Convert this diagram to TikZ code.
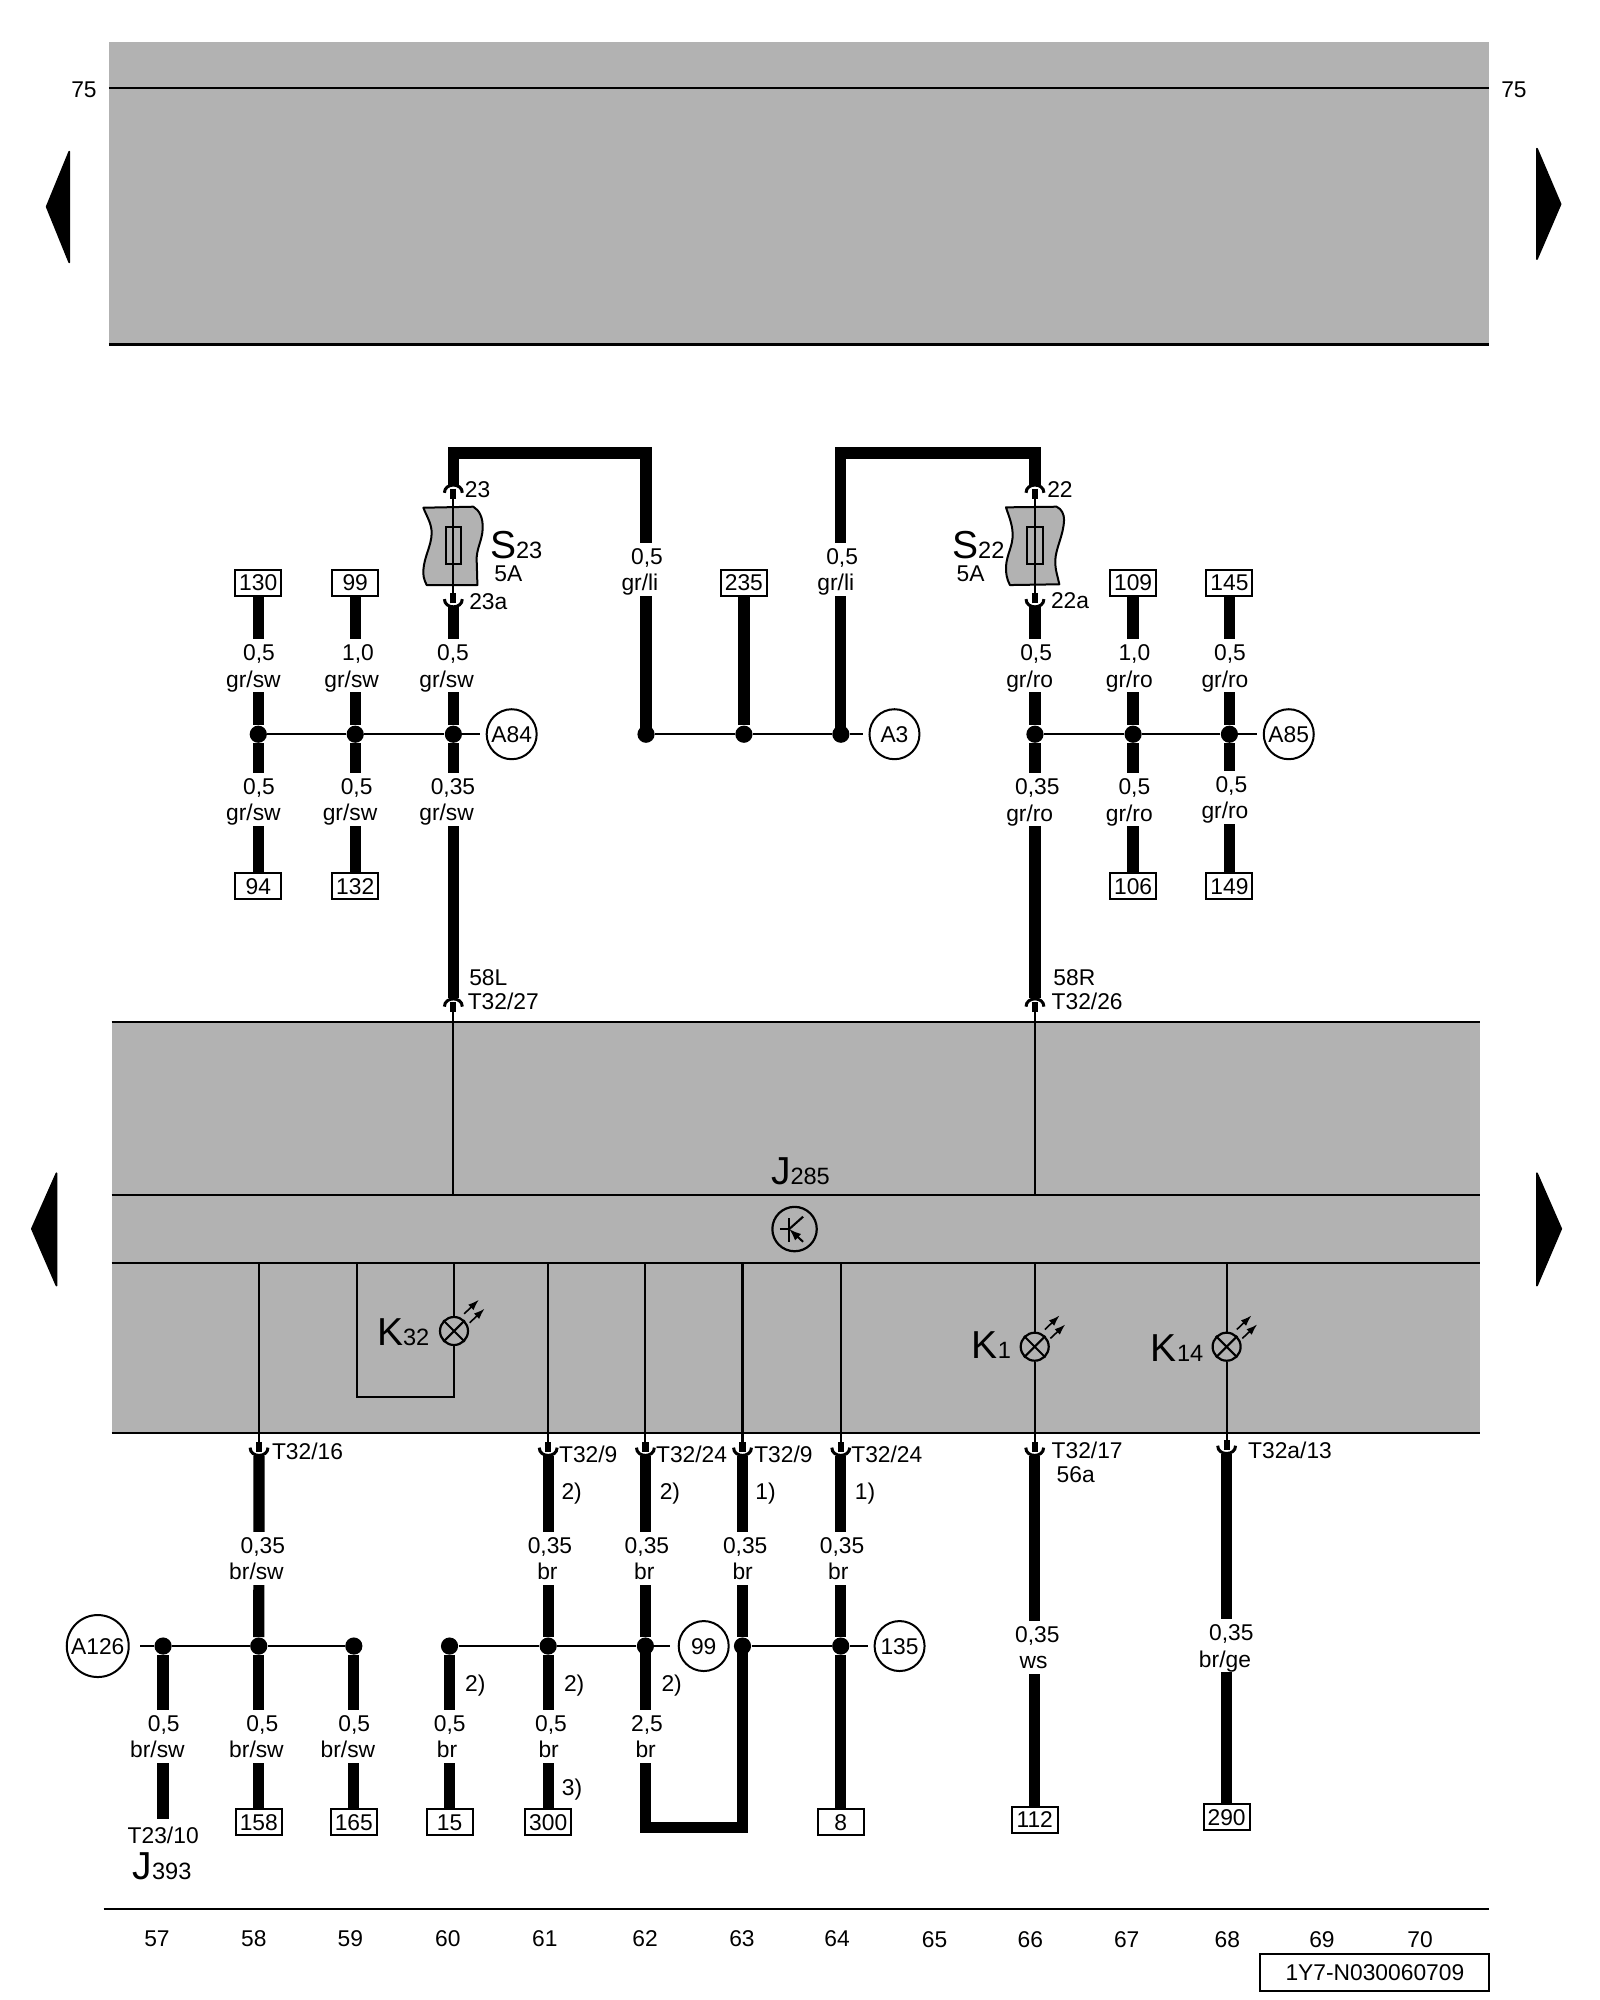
\documentclass[tikz,border=0pt]{standalone}
\usepackage{fontspec}
\setmainfont{Liberation Sans}
\usetikzlibrary{arrows.meta}
\definecolor{panelgray}{HTML}{B2B2B2}
\tikzset{
  wire/.style={line width=5.6pt,line cap=butt,line join=miter},
  thinw/.style={line width=1.05pt},
  txt/.style={font=\fontsize{11.4}{13}\selectfont,inner sep=0pt,text height=8.1pt,text depth=0pt},
  wlab/.style={txt,fill=white,inner xsep=1pt,minimum height=13.25pt},
  refbox/.style={txt,draw,line width=1pt,fill=white,minimum width=23pt,minimum height=13pt},
  refcirc/.style={txt,circle,draw,line width=1pt,fill=white,minimum size=25pt},
  bigcirc/.style={refcirc,minimum size=31pt},
  jdot/.style={circle,fill=black,inner sep=0pt,minimum size=8.6pt},
  dev/.style={inner sep=0pt,text height=14pt,text depth=0pt},
  lampc/.style={circle,draw,line width=1.1pt,inner sep=0pt,minimum size=14pt},
  fusebody/.style={fill=panelgray,draw,line width=1pt,line join=round},
  tri/.style={fill=black,draw,line width=0.9pt,line join=round},
  lightarrow/.style={line width=0.8pt,-{Latex[length=5.5pt,width=3.8pt]}},
}
\newcommand{\devname}[2]{{\fontsize{19.5}{21}\selectfont #1}{\fontsize{11.8}{13}\selectfont #2}}
% pin whose cup faces down (wire arrives from above); apex at y
\newcommand{\pinTop}[3]{%
  \coordinate (#1) at (#2,#3);
  \coordinate (#1s) at (#2,#3+11);
  \draw[line width=3.1pt] (#2,#3+3.2) -- (#1s);
  \draw[line width=1.5pt] (#2-7,#3+6.5) .. controls (#2-7,#3-1.6) and (#2+7,#3-1.6) .. (#2+7,#3+6.5);
}
% pin whose cup faces up (wire leaves downward); apex at y
\newcommand{\pinBot}[3]{%
  \coordinate (#1) at (#2,#3);
  \coordinate (#1s) at (#2,#3-11);
  \draw[line width=3.1pt] (#2,#3-3.2) -- (#1s);
  \draw[line width=1.5pt] (#2-7,#3-6.5) .. controls (#2-7,#3+1.6) and (#2+7,#3+1.6) .. (#2+7,#3-6.5);
}
% two-line wire label: name, x1, y1, text1, x2, text2
\newcommand{\wirelab}[6]{%
  \node[wlab] (#1v) at (#2,#3) {#4};
  \node[wlab] (#1c) at (#5,#3+20.7) {#6};
}
% lamp with light arrows
\newcommand{\lampsym}[3]{%
  \node[lampc] (#1) at (#2,#3) {};
  \draw[thinw] (#1.45) -- (#1.225) (#1.135) -- (#1.315);
  \draw[lightarrow] (#2+8,#3-13.5) -- (#2+19.5,#3-24.5);
  \draw[lightarrow] (#2+12.3,#3-6.5) -- (#2+24,#3-17.5);
}
\begin{document}
\begin{tikzpicture}[x=0.638pt,y=-0.638pt]
\useasboundingbox (0,0) rectangle (1253.9,1567.4);

% ---- panels
\fill[panelgray] (85.4,32.7) rectangle (1167,270);
\draw[thinw] (85.4,69.2) -- (1167,69.2);
\draw[thinw] (85.4,270) -- (1167,270);
\fill[panelgray] (87.5,801.2) rectangle (1160,1123);
\draw[thinw] (87.5,801.2) -- (1160,801.2);
\draw[thinw] (87.5,936.5) -- (1160,936.5);
\draw[thinw] (87.5,989.6) -- (1160,989.6);
\draw[thinw] (87.5,1123) -- (1160,1123);

\node[txt] (n75l) at (65.8,70.3) {75};
\node[txt] (n75r) at (1186.5,70.3) {75};

% ---- page arrows
\draw[tri] (36.6,162) -- (54.3,118.9) -- (54.3,205.6) -- cycle;
\draw[tri] (1204.5,116.5) -- (1223,160) -- (1204.5,203) -- cycle;
\draw[tri] (25,963) -- (44.3,919.5) -- (44.3,1007.5) -- cycle;
\draw[tri] (1204.5,919.5) -- (1223.5,963) -- (1204.5,1007.5) -- cycle;

% ---- reference boxes
\node[refbox] (b130) at (202.4,456.6) {130};
\node[refbox] (b99)  at (278.4,456.6) {99};
\node[refbox] (b235) at (583,456.6) {235};
\node[refbox] (b109) at (888,456.6) {109};
\node[refbox] (b145) at (963.5,456.6) {145};
\node[refbox] (b94)  at (202.4,694.4) {94};
\node[refbox] (b132) at (278.4,694.4) {132};
\node[refbox] (b106) at (888,694.4) {106};
\node[refbox] (b149) at (963.5,694.4) {149};
\node[refbox] (b158) at (202.8,1428) {158};
\node[refbox] (b165) at (277.3,1428) {165};
\node[refbox] (b15)  at (352.3,1428) {15};
\node[refbox] (b300) at (429.6,1428) {300};
\node[refbox] (b8)   at (658.9,1428) {8};
\node[refbox] (b112) at (810.9,1426) {112};
\node[refbox] (b290) at (961.3,1424) {290};

% ---- circled references
\node[refcirc] (cA84) at (401,575.4) {A84};
\node[refcirc] (cA3)  at (701,575.4) {A3};
\node[refcirc] (cA85) at (1010,575.4) {A85};
\node[bigcirc] (cA126) at (76.6,1290) {A126};
\node[refcirc] (c99)  at (551.5,1290) {99};
\node[refcirc] (c135) at (705,1290) {135};

% ---- junctions
\node[jdot] (j1) at (202.4,575.4) {};
\node[jdot] (j2) at (278.4,575.4) {};
\node[jdot] (j3) at (355.3,575.4) {};
\node[jdot] (j4) at (506.3,575.4) {};
\node[jdot] (j5) at (583,575.4) {};
\node[jdot] (j6) at (659,575.4) {};
\node[jdot] (j7) at (811.1,575.4) {};
\node[jdot] (j8) at (888,575.4) {};
\node[jdot] (j9) at (963.5,575.4) {};
\node[jdot] (k1) at (127.8,1290) {};
\node[jdot] (k2) at (202.8,1290) {};
\node[jdot] (k3) at (277.3,1290) {};
\node[jdot] (k4) at (352.3,1290) {};
\node[jdot] (k5) at (429.6,1290) {};
\node[jdot] (k6) at (505.8,1290) {};
\node[jdot] (k7) at (581.9,1290) {};
\node[jdot] (k8) at (658.9,1290) {};

% ---- fuses
\draw[fusebody] (331.8,397.9) -- (370.9,397.1) .. controls (376,400) and (378.5,406) .. (378.3,414)
  .. controls (378,424) and (373,430) .. (373.6,440) .. controls (373.8,447) and (374,452) .. (374.1,458.5)
  -- (334.4,458.5) .. controls (332,454) and (331.5,450) .. (331.8,446.7)
  .. controls (332.5,436) and (338,428) .. (338.3,418) .. controls (338.4,410) and (334,404) .. (331.8,397.9) -- cycle;
\draw[thinw] (349.3,413.3) rectangle (361,442.2);
\draw[fusebody] (788.4,397.6) -- (828.1,397.1) .. controls (832,399) and (834,403) .. (833.9,407.5)
  .. controls (833.5,420) and (827,430) .. (827,440) .. controls (827,447) and (829,452) .. (830.2,457.9)
  -- (791.5,458.5) .. controls (789,454) and (788.2,449) .. (788.4,444.1)
  .. controls (789,434) and (794,428) .. (793.6,418) .. controls (793.3,410) and (790,403) .. (788.4,397.6) -- cycle;
\draw[thinw] (805.1,413.3) rectangle (817.1,442.2);

% ---- pins
\pinTop{p23}{355.3}{379.7}
\pinBot{p23a}{355.3}{476}
\pinTop{p22}{811.1}{379.7}
\pinBot{p22a}{811.1}{476}
\pinTop{p27}{355.3}{782.4}
\pinTop{p26}{811.1}{782.4}
\pinBot{q16}{203}{1141}
\pinBot{q9a}{429.6}{1141}
\pinBot{q24a}{505.8}{1141}
\pinBot{q9b}{581.9}{1141}
\pinBot{q24b}{658.9}{1141}
\pinBot{q17}{810.9}{1141}
\pinBot{q13}{961.3}{1139.5}
\draw[thinw] (p23s) -- (p23as);
\draw[thinw] (p22s) -- (p22as);

% ---- thin lines in panel
\coordinate (t27) at (355.3,936.5);
\coordinate (t26) at (811.1,936.5);
\draw[thinw] (p27s) -- (t27);
\draw[thinw] (p26s) -- (t26);
\coordinate (u16) at (203,989.6);
\coordinate (u9a) at (429.6,989.6);
\coordinate (u24a) at (505.8,989.6);
\coordinate (u9b) at (581.9,989.6);
\coordinate (u24b) at (658.9,989.6);
\coordinate (u17) at (810.9,989.6);
\coordinate (u13) at (961.3,989.6);
\draw[thinw] (u16) -- (q16s);
\draw[thinw] (u9a) -- (q9as);
\draw[thinw] (u24a) -- (q24as);
\draw[thinw] (u9b) -- (q9bs);
\draw[thinw] (u24b) -- (q24bs);

\lampsym{l32}{355.8}{1043.1}
\lampsym{l1}{810.9}{1055.4}
\lampsym{l14}{961.3}{1055.4}
\draw[thinw] (u17) -- (l1);
\draw[thinw] (l1) -- (q17s);
\draw[thinw] (u13) -- (l14);
\draw[thinw] (l14) -- (q13s);
\coordinate (u32r) at (355.8,989.6);
\coordinate (u32l) at (279.6,989.6);
\coordinate (c32l) at (279.6,1095);
\coordinate (c32r) at (355.8,1095);
\draw[thinw] (u32r) -- (l32);
\draw[thinw,line join=miter] (l32) -- (c32r) -- (c32l) -- (u32l);

% transistor symbol
\node[circle,draw,line width=1.1pt,inner sep=0pt,minimum size=22.2pt] (tr) at (622.7,963.2) {};
\draw[thinw] (618.5,954.8) -- (618.5,973.2);
\draw[thinw] (611.2,963.2) -- (618.5,963.2);
\draw[thinw] (618.5,963.2) -- (629.4,953.5);
\draw[line width=1pt,{Latex[length=6pt,width=4.5pt]}-] (618.5,963.2) -- (629.4,973.2);

% ---- thick wires (top)
\coordinate (cA1) at (355.3,355);
\coordinate (cA2) at (506.3,355);
\coordinate (cB1) at (659,355);
\coordinate (cB2) at (811.1,355);
\draw[wire] (p23) -- (cA1) -- (cA2) -- (j4.center);
\draw[wire] (p22) -- (cB2) -- (cB1) -- (j6.center);
\draw[wire] (b235) -- (j5);
\draw[wire] (b130) -- (j1);
\draw[wire] (j1) -- (b94);
\draw[wire] (b99) -- (j2);
\draw[wire] (j2) -- (b132);
\draw[wire] (p23a) -- (j3);
\draw[wire] (j3) -- (p27);
\draw[wire] (p22a) -- (j7);
\draw[wire] (j7) -- (p26);
\draw[wire] (b109) -- (j8);
\draw[wire] (j8) -- (b106);
\draw[wire] (b145) -- (j9);
\draw[wire] (j9) -- (b149);

% ---- thick wires (bottom)
\coordinate (w57) at (127.8,1425.8);
\coordinate (c62) at (505.8,1432);
\coordinate (c63) at (581.9,1432);
\draw[wire] (k1) -- (w57);
\draw[wire] (q16) -- (k2);
\draw[wire] (k2) -- (b158);
\draw[wire] (k3) -- (b165);
\draw[wire] (k4) -- (b15);
\draw[wire] (q9a) -- (k5);
\draw[wire] (k5) -- (b300);
\draw[wire] (q24a) -- (k6);
\draw[wire] (k6.center) -- (c62) -- (c63) -- (k7.center);
\draw[wire] (q9b) -- (k7);
\draw[wire] (q24b) -- (k8);
\draw[wire] (k8) -- (b8);
\draw[wire] (q17) -- (b112);
\draw[wire] (q13) -- (b290);

% ---- thin cross lines
\draw[thinw] (j1) -- (j2);
\draw[thinw] (j2) -- (j3);
\draw[thinw,shorten >=2.8pt] (j3) -- (cA84);
\draw[thinw] (j4) -- (j5);
\draw[thinw] (j5) -- (j6);
\draw[thinw,shorten >=2.8pt] (j6) -- (cA3);
\draw[thinw] (j7) -- (j8);
\draw[thinw] (j8) -- (j9);
\draw[thinw,shorten >=2.8pt] (j9) -- (cA85);
\draw[thinw,shorten >=5pt] (k1) -- (cA126);
\draw[thinw] (k1) -- (k2);
\draw[thinw] (k2) -- (k3);
\draw[thinw] (k4) -- (k5);
\draw[thinw] (k5) -- (k6);
\draw[thinw,shorten >=4pt] (k6) -- (c99);
\draw[thinw] (k7) -- (k8);
\draw[thinw,shorten >=2.8pt] (k8) -- (c135);

% ---- wire labels
\wirelab{a1}{203}{511.5}{0,5}{198.6}{gr/sw}
\wirelab{a2}{280.6}{511.5}{1,0}{275.6}{gr/sw}
\wirelab{a3}{355}{511.5}{0,5}{350}{gr/sw}
\wirelab{a4}{203}{616}{0,5}{198.6}{gr/sw}
\wirelab{a5}{279.5}{616}{0,5}{274.3}{gr/sw}
\wirelab{a6}{355}{616}{0,35}{350}{gr/sw}
\wirelab{a7}{507}{436}{0,5}{501.5}{gr/li}
\wirelab{a8}{660}{436}{0,5}{655}{gr/li}
\wirelab{a9}{812}{511.5}{0,5}{807}{gr/ro}
\wirelab{a10}{889}{511.5}{1,0}{885}{gr/ro}
\wirelab{a11}{964}{511.5}{0,5}{960}{gr/ro}
\wirelab{a12}{813}{616.5}{0,35}{807}{gr/ro}
\wirelab{a13}{889}{616.5}{0,5}{885}{gr/ro}
\wirelab{a14}{965}{614.5}{0,5}{960}{gr/ro}
\wirelab{c1}{206}{1211}{0,35}{201}{br/sw}
\wirelab{c2}{431}{1211}{0,35}{429}{br}
\wirelab{c3}{507}{1211}{0,35}{505}{br}
\wirelab{c4}{584}{1211}{0,35}{582}{br}
\wirelab{c5}{660}{1211}{0,35}{657}{br}
\wirelab{c6}{813}{1280.5}{0,35}{810}{ws}
\wirelab{c7}{965}{1279.5}{0,35}{960}{br/ge}
\wirelab{d1}{128.3}{1350.6}{0,5}{123.4}{br/sw}
\wirelab{d2}{205.6}{1350.6}{0,5}{201}{br/sw}
\wirelab{d3}{277.6}{1350.6}{0,5}{272.7}{br/sw}
\wirelab{d4}{352.5}{1350.6}{0,5}{350.4}{br}
\wirelab{d5}{431.8}{1350.6}{0,5}{430}{br}
\wirelab{d6}{507}{1350.6}{2,5}{506}{br}

% ---- pin and note labels
\node[txt] (e23) at (374.3,383.4) {23};
\node[txt] (e23a) at (382.7,471.5) {23a};
\node[txt] (e22) at (830.7,383.4) {22};
\node[txt] (e22a) at (838.6,470.7) {22a};
\node[txt] (e58L) at (382.7,766) {58L};
\node[txt] (eT27) at (394.4,784.6) {T32/27};
\node[txt] (e58R) at (842,766) {58R};
\node[txt] (eT26) at (852,784.6) {T32/26};
\node[txt] (eT16) at (241,1137.5) {T32/16};
\node[txt] (eT9a) at (461,1139.5) {T32/9};
\node[txt] (eT24a) at (542,1139.5) {T32/24};
\node[txt] (eT9b) at (614,1139.5) {T32/9};
\node[txt] (eT24b) at (695,1139.5) {T32/24};
\node[txt] (eT17) at (852,1137) {T32/17};
\node[txt] (e56a) at (843,1155.5) {56a};
\node[txt] (eT13) at (1011,1137) {T32a/13};
\node[txt] (eT23) at (127.9,1438) {T23/10};
\node[txt] (f1) at (448,1169) {2)};
\node[txt] (f2) at (525,1169) {2)};
\node[txt] (f3) at (600,1169) {1)};
\node[txt] (f4) at (678,1169) {1)};
\node[txt] (f5) at (372.5,1319.5) {2)};
\node[txt] (f6) at (450,1319.5) {2)};
\node[txt] (f7) at (526.4,1319.5) {2)};
\node[txt] (f8) at (448.3,1401) {3)};

% ---- device names
\node[dev] (S23) at (404.5,427) {\devname{S}{23}};
\node[txt] (a5A) at (398.4,449) {5A};
\node[dev] (S22) at (766.7,427) {\devname{S}{22}};
\node[txt] (b5A) at (760.7,449.5) {5A};
\node[dev] (J285) at (627.3,917) {\devname{J}{285}};
\node[dev] (K32) at (316,1043.6) {\devname{K}{32}};
\node[dev] (K1) at (777,1054) {\devname{K}{1}};
\node[dev] (K14) at (922.5,1056) {\devname{K}{14}};
\node[dev] (J393) at (127,1461.6) {\devname{J}{393}};

% ---- bottom rule and column numbers
\draw[thinw] (81.3,1496.3) -- (1167.2,1496.3);
\foreach \n/\x/\y in {57/123/1519,58/199/1519,59/274.5/1519,60/351/1519,61/427/1519,62/505.5/1519,63/581.5/1519,64/656/1519,65/732.5/1520,66/807.5/1519.5,67/883/1519.5,68/961.8/1519.6,69/1036/1519.6,70/1112.9/1519.6}
  \node[txt] (col\n) at (\x,\y) {\n};
\node[txt,draw,line width=1pt,minimum width=114.5pt,minimum height=18.3pt] (code) at (1077.5,1545.6) {1Y7-N030060709};
\end{tikzpicture}
\end{document}
